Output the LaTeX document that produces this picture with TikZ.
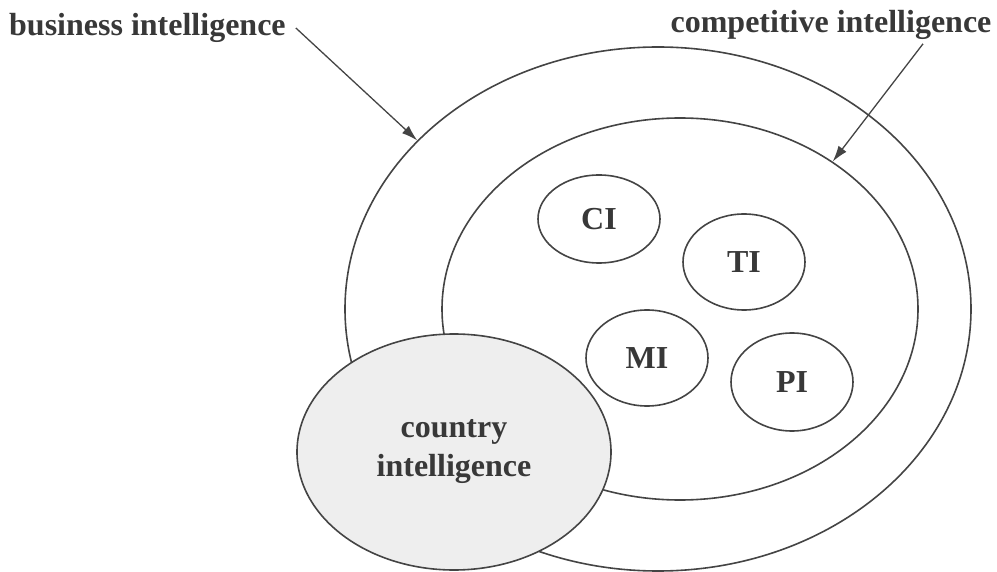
\documentclass[tikz,border=0pt]{standalone}
\usepackage{fontspec}
\setmainfont{Liberation Serif}
\usetikzlibrary{shapes.geometric,arrows.meta}
\definecolor{linegray}{HTML}{444444}
\definecolor{textgray}{HTML}{383838}
\definecolor{fillgray}{HTML}{EEEEEE}

\begin{document}
\begin{tikzpicture}[>={Latex[length=16pt,width=10pt]},x=1pt,y=-1pt,
  ring/.style={ellipse,draw=linegray,line width=1.6pt,inner sep=0pt},
  lbl/.style={font=\fontsize{32}{39}\selectfont\bfseries,text=textgray}]
\useasboundingbox (0,0) rectangle (997,572);
% nested areas
\node[ring,minimum width=626pt,minimum height=524pt] (bizarea) at (658,309) {};
\node[ring,minimum width=476pt,minimum height=382pt] (comparea) at (680,309) {};
% the four kinds inside competitive intelligence
\node[ring,lbl,minimum width=122pt,minimum height=88pt] (ci) at (599,219) {CI};
\node[ring,lbl,minimum width=122pt,minimum height=96pt] (ti) at (744,262) {TI};
\node[ring,lbl,minimum width=122pt,minimum height=96pt] (mi) at (647,358) {MI};
\node[ring,lbl,minimum width=122pt,minimum height=98pt] (pi) at (792,382) {PI};
\node[ring,lbl,fill=fillgray,align=center,minimum width=314pt,minimum height=236pt] (country) at (454,452) {country\\intelligence};
% captions
\node[lbl,anchor=west,inner sep=0pt] (bilabel) at (9,28) {business intelligence};
\node[lbl,inner sep=0pt] (cilabel) at (831,25) {competitive intelligence};
\draw[->,draw=linegray,line width=1.3pt] ([xshift=10pt]bilabel.east) -- (bizarea.145);
\draw[->,draw=linegray,line width=1.3pt] ([xshift=92pt,yshift=-4pt]cilabel.south) -- (comparea.44);
\end{tikzpicture}
\end{document}
